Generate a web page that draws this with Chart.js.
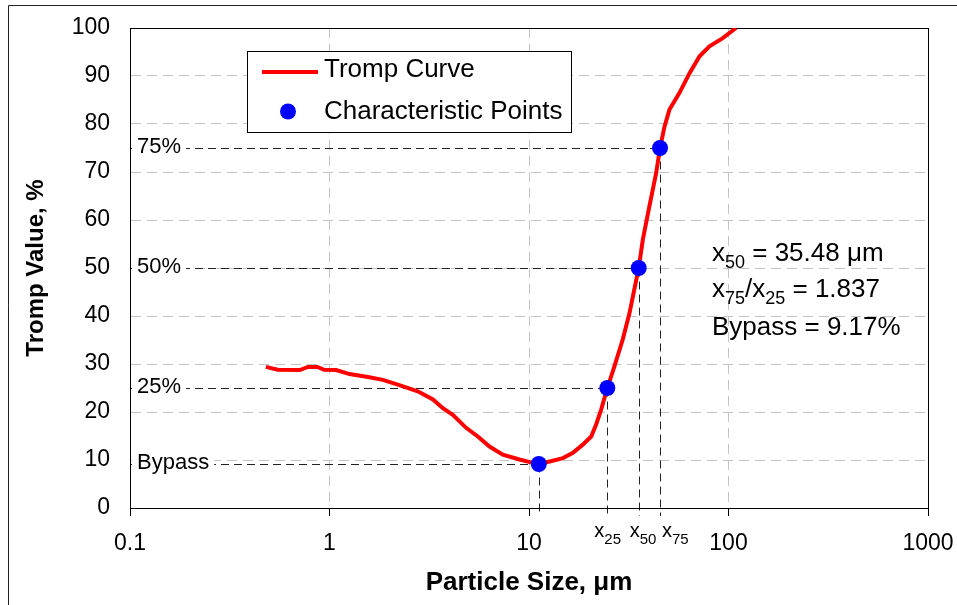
<!DOCTYPE html>
<html>
<head>
<meta charset="utf-8">
<title>Tromp Curve</title>
<script src="https://cdn.jsdelivr.net/npm/chart.js@4.4.1/dist/chart.umd.min.js"></script>
<style>
  body { margin: 0; background: #fff; }
  #wrap { width: 957px; height: 605px; position: relative; }
</style>
</head>
<body>
<div id="wrap"><canvas id="tromp"></canvas></div>
<script>
// tromp curve: particle size (um) against tromp value (%)
var sizes = [0.48, 0.55, 0.71, 0.78, 0.87, 0.94, 1.08, 1.26, 1.56, 1.85, 2.2, 2.77, 3.3, 3.7, 4.15,
             4.84, 5.54, 6.34, 7.39, 8.96, 10.45, 11.2, 12.7, 14.8, 16.6, 18.6, 20.5, 21.7, 23.0,
             24.7, 26.8, 29.5, 31.9, 35.48, 37.2, 40.1, 43.4, 45.37, 47.8, 50.6, 56.8, 63.8, 71.6,
             80.3, 93.6, 109];
var trompValues = [29.4, 28.8, 28.75, 29.4, 29.4, 28.8, 28.75, 27.9, 27.3, 26.7, 25.7, 24.3, 22.6, 20.8, 19.4,
                   16.7, 14.9, 12.8, 11.1, 10.1, 9.4, 9.17, 9.7, 10.4, 11.5, 13.2, 14.9, 17.4, 20.5,
                   25, 29.5, 35.1, 40.6, 50, 55.9, 62.8, 69.8, 75, 79.5, 83.0, 86.5, 90.6, 94.1,
                   96.2, 97.9, 100];

// characteristic points: bypass, x25, x50, x75
var charLabels = ['Bypass', '25%', '50%', '75%'];
var charSizes = [11.2, 24.7, 35.48, 45.37];
var charValues = [9.17, 25, 50, 75];
var charSubs = ['', '25', '50', '75'];

var xTicks = [0.1, 1, 10, 100, 1000];

var FONT = "'Liberation Sans', Arial, sans-serif";
Chart.defaults.color = '#000';
Chart.defaults.font.family = FONT;

var points = [];
for (var i = 0; i < charSizes.length; i++) {
    points.push({ x: charSizes[i], y: charValues[i] });
}
var curve = [];
for (var i = 0; i < sizes.length; i++) {
    curve.push({ x: sizes[i], y: trompValues[i] });
}

// text with subscripts, parts = [[text, isSub], ...]
function drawRich(ctx, parts, x, y, size, subSize, subDrop) {
    ctx.textBaseline = 'alphabetic';
    ctx.textAlign = 'left';
    for (var i = 0; i < parts.length; i++) {
        var sub = parts[i][1];
        ctx.font = (sub ? subSize : size) + 'px ' + FONT;
        ctx.fillText(parts[i][0], x, sub ? y + subDrop : y);
        x += ctx.measureText(parts[i][0]).width;
    }
}

var decorations = {
    id: 'decorations',
    beforeDraw: function(chart) {
        var ctx = chart.ctx;
        ctx.save();
        ctx.strokeStyle = '#222';
        ctx.lineWidth = 1;
        ctx.beginPath();
        ctx.moveTo(8.5, 605);
        ctx.lineTo(8.5, 5.5);
        ctx.lineTo(957, 5.5);
        ctx.stroke();
        ctx.restore();
    },
    beforeDatasetsDraw: function(chart) {
        var ctx = chart.ctx;
        var a = chart.chartArea;
        var xs = chart.scales.x, ys = chart.scales.y;
        ctx.save();
        // dashed guides from the axes to each characteristic point
        ctx.strokeStyle = '#222';
        ctx.lineWidth = 1;
        ctx.setLineDash([8, 5]);
        for (var i = 0; i < charSizes.length; i++) {
            var px = Math.round(xs.getPixelForValue(charSizes[i])) + 0.5;
            var py = Math.round(ys.getPixelForValue(charValues[i])) + 0.5;
            ctx.beginPath();
            ctx.moveTo(a.left, py);
            ctx.lineTo(px, py);
            ctx.moveTo(px, py);
            ctx.lineTo(px, a.bottom + 8);
            ctx.stroke();
        }
        ctx.setLineDash([]);
        // level labels on a white box
        ctx.font = '22px ' + FONT;
        ctx.textBaseline = 'alphabetic';
        for (var i = 0; i < charLabels.length; i++) {
            var py = ys.getPixelForValue(charValues[i]);
            var w = ctx.measureText(charLabels[i]).width;
            ctx.fillStyle = '#fff';
            ctx.fillRect(a.left + 2, py - 14, w + 10, 24);
            ctx.fillStyle = '#000';
            ctx.fillText(charLabels[i], a.left + 7, py + 5);
        }
        // plot frame
        ctx.strokeStyle = '#000';
        ctx.strokeRect(Math.round(a.left) + 0.5, Math.round(a.top) + 0.5,
                       Math.round(a.right - a.left), Math.round(a.bottom - a.top));
        ctx.restore();
    },
    afterDraw: function(chart) {
        var ctx = chart.ctx;
        var xs = chart.scales.x;
        var ds = chart.data.datasets;
        ctx.save();

        // legend
        ctx.fillStyle = '#fff';
        ctx.fillRect(247, 51, 324, 81);
        ctx.strokeStyle = '#000';
        ctx.lineWidth = 1;
        ctx.strokeRect(247.5, 51.5, 324, 81);
        ctx.strokeStyle = ds[1].borderColor;
        ctx.lineWidth = ds[1].borderWidth;
        ctx.beginPath();
        ctx.moveTo(262, 72);
        ctx.lineTo(318, 72);
        ctx.stroke();
        ctx.fillStyle = ds[0].backgroundColor;
        ctx.beginPath();
        ctx.arc(288, 111.5, ds[0].pointRadius, 0, Math.PI * 2);
        ctx.fill();
        ctx.fillStyle = '#000';
        ctx.font = '26px ' + FONT;
        ctx.textBaseline = 'alphabetic';
        ctx.fillText(ds[1].label, 324, 77);
        ctx.fillText(ds[0].label, 324, 119);

        // x25 / x50 / x75 below the axis
        var offs = [0, -13, -9, 2];
        for (var i = 1; i < charSizes.length; i++) {
            var px = xs.getPixelForValue(charSizes[i]);
            drawRich(ctx, [['x', false], [charSubs[i], true]], px + offs[i], 537, 20, 15, 6.5);
        }

        // results
        var ratio = (charSizes[3] / charSizes[1]).toFixed(3);
        drawRich(ctx, [['x', false], [charSubs[2], true], [' = ' + charSizes[2].toFixed(2) + ' \u03bcm', false]],
                 712, 261, 26, 18, 7);
        drawRich(ctx, [['x', false], [charSubs[3], true], ['/x', false], [charSubs[1], true], [' = ' + ratio, false]],
                 712, 297, 26, 18, 7);
        drawRich(ctx, [['Bypass = ' + charValues[0].toFixed(2) + '%', false]], 712, 335, 26, 18, 7);
        ctx.restore();
    }
};

new Chart(document.getElementById('tromp'), {
    type: 'scatter',
    data: {
        datasets: [{
            label: 'Characteristic Points',
            data: points,
            backgroundColor: '#0000ff',
            borderWidth: 0,
            pointRadius: 8,
            order: 0
        }, {
            label: 'Tromp Curve',
            data: curve,
            showLine: true,
            borderColor: '#ff0000',
            borderWidth: 4,
            pointRadius: 0,
            tension: 0,
            order: 1
        }]
    },
    options: {
        responsive: true,
        maintainAspectRatio: false,
        animation: false,
        layout: { autoPadding: false, padding: { left: 0, top: 28, right: 29, bottom: 0 } },
        plugins: {
            legend: { display: false },
            tooltip: { enabled: false }
        },
        scales: {
            x: {
                type: 'logarithmic',
                min: 0.1,
                max: 1000,
                afterBuildTicks: function(scale) {
                    scale.ticks = xTicks.map(function(v) { return { value: v }; });
                },
                afterFit: function(scale) {
                    scale.height = 97;
                    scale.paddingLeft = 0;
                    scale.paddingRight = 0;
                },
                ticks: {
                    font: { size: 23 },
                    padding: 14,
                    maxRotation: 0,
                    callback: function(v) { return String(v); }
                },
                grid: { color: '#c4c4c4', tickColor: '#000', tickLength: 8, tickBorderDash: [] },
                border: { color: '#000', width: 1, dash: [10, 6] },
                title: {
                    display: true,
                    text: 'Particle Size, \u03bcm',
                    font: { size: 26, weight: 'bold', lineHeight: 1.2 },
                    padding: { top: 0, bottom: 7 }
                }
            },
            y: {
                min: 0,
                max: 100,
                ticks: { stepSize: 10, font: { size: 23 }, padding: 20 },
                afterFit: function(scale) {
                    scale.width = 130;
                    scale.paddingTop = 0;
                    scale.paddingBottom = 0;
                },
                grid: { color: '#c4c4c4', drawTicks: false },
                border: { color: '#000', width: 1, dash: [10, 6] },
                title: {
                    display: true,
                    text: 'Tromp Value, %',
                    font: { size: 24, weight: 'bold', lineHeight: 1.2 },
                    padding: { top: 22, bottom: 0 }
                }
            }
        }
    },
    plugins: [decorations]
});
</script>
</body>
</html>
